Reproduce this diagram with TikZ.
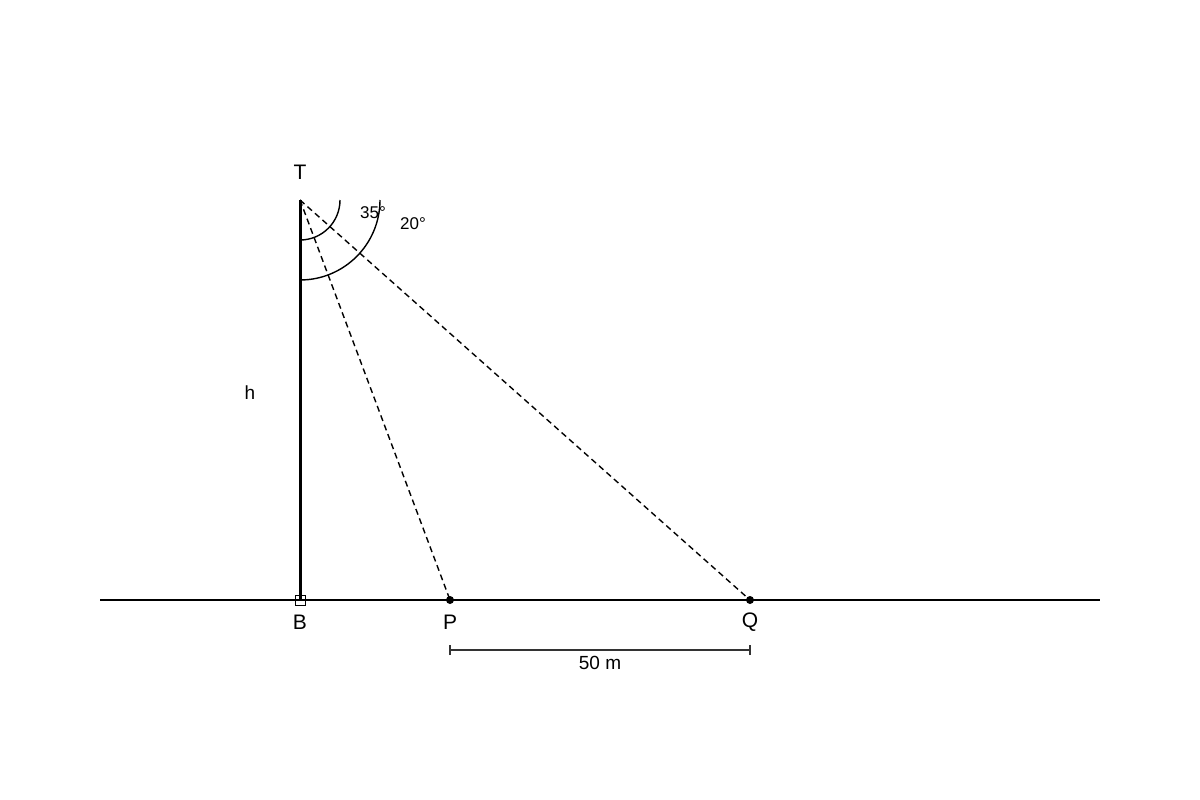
\documentclass[tikz,border=0pt]{standalone}
\usepackage{fontspec}
\setmainfont{Liberation Sans}
\usetikzlibrary{positioning}
\tikzset{
    sightline/.style={line width=1.4pt, dash pattern=on 6pt off 4pt},
    anglearc/.style={line width=1.4pt},
    ptlabel/.style={font=\fontsize{21}{25}\selectfont},
    anglabel/.style={font=\fontsize{17}{20}\selectfont},
    dot/.style={circle, fill, inner sep=0pt, minimum size=8pt}
}
\begin{document}
\begin{tikzpicture}[x=1pt, y=-1pt]
    \useasboundingbox (0,0) rectangle (1200,800);

    % Pontos
    \coordinate (T) at (300,200);
    \coordinate (B) at (300,600);
    \node[dot] (P) at (450,600) {};
    \node[dot] (Q) at (750,600) {};
    \coordinate (G1) at (100,600);
    \coordinate (G2) at (1100,600);

    % Chão e torre
    \draw[line width=2pt] (G1) -- (G2);
    \draw[line width=3pt] (B) -- (T);
    \draw[line width=1pt] (295,595) rectangle (305,605);

    % Linhas de visada
    \draw[sightline] (T) -- (P.center);
    \draw[sightline] (T) -- (Q.center);

    % Arcos dos ângulos
    \draw[anglearc] (340,200) arc[start angle=0, end angle=90, radius=40];
    \draw[anglearc] (380,200) arc[start angle=0, end angle=90, radius=80];
    \node[anglabel] (a35) at (373,213) {35°};
    \node[anglabel] (a20) at (413,224) {20°};

    % Rótulos
    \node[ptlabel] (lT) at (300,172) {T};
    \node[ptlabel] (lB) at (300,622) {B};
    \node[ptlabel] (lP) at (450,622) {P};
    \node[ptlabel] (lQ) at (750,622) {Q};
    \node[font=\fontsize{19}{23}\selectfont] (lh) at (250,393) {h};

    % Cota
    \coordinate (D1) at (450,650);
    \coordinate (D2) at (750,650);
    \draw[line width=1.5pt, black!80] (D1) -- (D2);
    \draw[line width=1.5pt, black!80] ([yshift=-5pt]D1) -- ([yshift=5pt]D1);
    \draw[line width=1.5pt, black!80] ([yshift=-5pt]D2) -- ([yshift=5pt]D2);
    \node[font=\fontsize{19}{23}\selectfont] (dist) at (600,663) {50 m};
\end{tikzpicture}
\end{document}
